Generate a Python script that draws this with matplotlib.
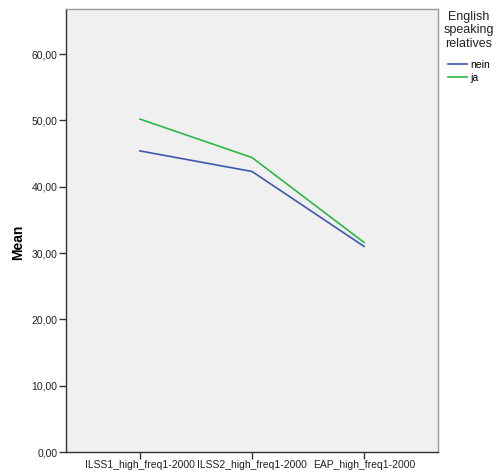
import matplotlib
matplotlib.use('Agg')
import matplotlib.pyplot as plt

categories = ['ILSS1_high_freq1-2000', 'ILSS2_high_freq1-2000', 'EAP_high_freq1-2000']
nein = [45.4, 42.3, 31.0]
ja = [50.2, 44.4, 31.6]
yticks = [0, 10, 20, 30, 40, 50, 60]

plt.rcParams['font.family'] = ['Liberation Sans', 'DejaVu Sans']

fig = plt.figure(figsize=(4.97, 4.75), dpi=100)
ax = fig.add_axes([66 / 497, 1 - 452 / 475, 372 / 497, 443 / 475])
ax.set_facecolor('#f0f0f0')

x = list(range(len(categories)))
ax.plot(x, nein, color='#3e58ac', lw=1.2, label='nein')
ax.plot(x, ja, color='#2eb848', lw=1.2, label='ja')

ax.set_xlim(-0.66, 2.66)
ax.set_ylim(0, 66.8)
ax.set_xticks(x)
ax.set_xticklabels(categories, fontsize=7.5, color='#222222')
ax.set_yticks(yticks)
ax.set_yticklabels(['%d,00' % v for v in yticks], fontsize=7.5, color='#222222')
ax.tick_params(axis='both', length=5, width=1, color='#333333', pad=1)
for s in ax.spines.values():
    s.set_color('#333333')
    s.set_linewidth(1)
for s in ['top', 'right']:
    ax.spines[s].set_color('#999999')

# y label sits well left of the tick labels
fig.text(18 / 497, 1 - 242 / 475, 'Mean', rotation=90, fontsize=10,
         fontweight='bold', ha='center', va='center')

# legend title and entries
fig.text(469 / 497, 1 - 11 / 475, 'English\nspeaking\nrelatives', ha='center',
         va='top', fontsize=9, linespacing=1.15, color='#222222')
leg = fig.legend(loc='upper left', bbox_to_anchor=(448 / 497, 1 - 60 / 475),
                 frameon=False, fontsize=7.5, handlelength=1.8,
                 handletextpad=0.3, labelspacing=0.3, borderaxespad=0,
                 borderpad=0)

fig.savefig('out.png', dpi=100)
